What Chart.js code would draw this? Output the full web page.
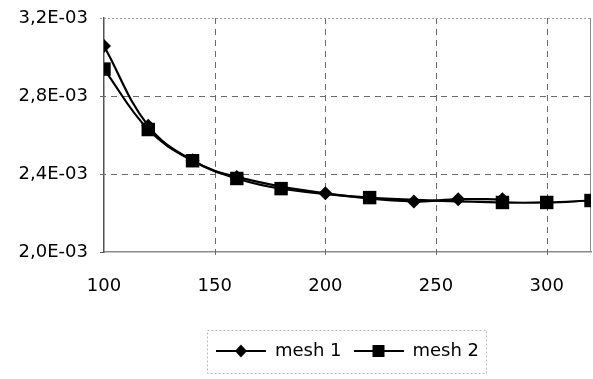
<!DOCTYPE html>
<html>
<head>
<meta charset="utf-8">
<script src="https://cdn.jsdelivr.net/npm/chart.js@4.4.1/dist/chart.umd.min.js"></script>
<style>
  html, body { margin: 0; padding: 0; background: #fff; }
  #wrap { width: 593px; height: 379px; position: relative; }
</style>
</head>
<body>
<div id="wrap"><canvas id="c" width="593" height="379"></canvas></div>
<script>
// ---- data ----
const seriesNames = ['mesh 1', 'mesh 2'];
const mesh1X = [100, 120, 140, 160, 200, 240, 260, 280];
const mesh1Y = [3.056e-3, 2.647e-3, 2.470e-3, 2.385e-3, 2.301e-3, 2.259e-3, 2.271e-3, 2.270e-3];
const mesh2X = [100, 120, 140, 160, 180, 220, 280, 300, 320];
const mesh2Y = [2.938e-3, 2.628e-3, 2.468e-3, 2.377e-3, 2.325e-3, 2.279e-3, 2.254e-3, 2.254e-3, 2.264e-3];
const xTicks = [100, 150, 200, 250, 300];
const yTicks = [2.0e-3, 2.4e-3, 2.8e-3, 3.2e-3];
const xMin = 100, xMax = 320;
const yMin = 2.0e-3, yMax = 3.2e-3;

function toPoints(xs, ys) { return xs.map((x, i) => ({ x: x, y: ys[i] })); }

function fmtSci(v) {
  return (v * 1000).toFixed(1).replace('.', ',') + 'E-03';
}

function legendIcon(shape) {
  const cv = document.createElement('canvas');
  cv.width = 50; cv.height = 16;
  const g = cv.getContext('2d');
  g.strokeStyle = '#000'; g.lineWidth = 2.2;
  g.beginPath(); g.moveTo(0, 8); g.lineTo(50, 8); g.stroke();
  g.fillStyle = '#000';
  g.beginPath();
  if (shape === 'diamond') {
    g.moveTo(25, 1.5); g.lineTo(31, 8); g.lineTo(25, 14.5); g.lineTo(19, 8); g.closePath();
  } else {
    g.rect(19, 2, 12, 12);
  }
  g.fill();
  return cv;
}
const icons = [legendIcon('diamond'), legendIcon('square')];

const FONT = "'DejaVu Sans', sans-serif";

// dashed grid inside the plot, positioned by the chart's own scales
const dashedGrid = {
  id: 'dashedGrid',
  beforeDatasetsDraw(chart) {
    const ctx = chart.ctx, a = chart.chartArea;
    const xs = chart.scales.x, ys = chart.scales.y;
    ctx.save();
    ctx.lineWidth = 1;
    ctx.setLineDash([6, 5]);
    ctx.strokeStyle = '#6a6a6a';
    xTicks.forEach(v => {
      if (v === xMin) return;
      const px = Math.round(xs.getPixelForValue(v)) + 0.5;
      ctx.beginPath(); ctx.moveTo(px, a.top); ctx.lineTo(px, a.bottom + 4); ctx.stroke();
    });
    yTicks.forEach(v => {
      const py = Math.round(ys.getPixelForValue(v)) + 0.5;
      if (Math.abs(v - yMin) < 1e-9) {
        ctx.setLineDash([]); ctx.strokeStyle = '#555';
        ctx.beginPath(); ctx.moveTo(a.left - 4, py); ctx.lineTo(a.left, py); ctx.stroke();
        return;
      }
      if (Math.abs(v - yMax) < 1e-9) { ctx.strokeStyle = '#a0a0a0'; ctx.setLineDash([2, 2]); }
      else { ctx.strokeStyle = '#6a6a6a'; ctx.setLineDash([6, 5]); }
      ctx.beginPath(); ctx.moveTo(a.left - 4, py); ctx.lineTo(a.right, py); ctx.stroke();
    });
    ctx.setLineDash([]);
    ctx.strokeStyle = '#8a8a8a';
    ctx.beginPath(); ctx.moveTo(Math.round(a.right) - 0.5, a.top); ctx.lineTo(Math.round(a.right) - 0.5, a.bottom); ctx.stroke();
    ctx.restore();
  },
  afterDraw(chart) {
    const ctx = chart.ctx;
    const hb = chart.legend.legendHitBoxes;
    if (hb && hb.length) {
      ctx.save();
      const l = Math.min(...hb.map(h => h.left)) - 9;
      const r = Math.max(...hb.map(h => h.left + h.width)) + 7;
      const cy = hb[0].top + hb[0].height / 2;
      ctx.strokeStyle = '#b8b8b8';
      ctx.setLineDash([2, 2]);
      ctx.lineWidth = 1;
      ctx.strokeRect(Math.round(l) + 0.5, Math.round(cy - 21) + 0.5, Math.round(r - l), 43);
      ctx.restore();
    }
  }
};

new Chart(document.getElementById('c'), {
  type: 'line',
  data: {
    datasets: [
      {
        label: seriesNames[0],
        data: toPoints(mesh1X, mesh1Y),
        borderColor: '#000', backgroundColor: '#000', borderWidth: 2.2,
        pointStyle: 'rectRot', pointRadius: 7, pointBackgroundColor: '#000', pointBorderWidth: 0,
        tension: 0.4, fill: false
      },
      {
        label: seriesNames[1],
        data: toPoints(mesh2X, mesh2Y),
        borderColor: '#000', backgroundColor: '#000', borderWidth: 2.2,
        pointStyle: 'rect', pointRadius: 9.5, pointBackgroundColor: '#000', pointBorderWidth: 0,
        tension: 0.4, fill: false
      }
    ]
  },
  options: {
    responsive: false,
    animation: false,
    layout: { autoPadding: false, padding: { top: 18, right: 2, bottom: 9, left: 0 } },
    plugins: {
      tooltip: { enabled: false },
      legend: {
        position: 'bottom',
        fullSize: false,
        labels: {
          usePointStyle: true,
          pointStyleWidth: 50,
          padding: 12,
          color: '#000',
          font: { family: FONT, size: 18 },
          generateLabels(chart) {
            return chart.data.datasets.map((ds, i) => ({
              text: ds.label, datasetIndex: i, pointStyle: icons[i],
              fillStyle: '#000', strokeStyle: '#000', lineWidth: 0, hidden: false
            }));
          }
        }
      }
    },
    scales: {
      x: {
        type: 'linear', min: xMin, max: xMax,
        afterBuildTicks(s) { s.ticks = xTicks.map(v => ({ value: v })); },
        afterFit(s) { s.height = 78; s.paddingRight = 0; s.paddingLeft = 0; },
        ticks: { color: '#000', font: { family: FONT, size: 18 }, padding: 2, maxRotation: 0,
                 callback: v => String(v) },
        grid: { display: false, drawOnChartArea: false, drawTicks: true, tickLength: 22 },
        border: { display: true, color: '#8a8a8a', width: 1.5 }
      },
      y: {
        type: 'linear', min: yMin, max: yMax,
        afterBuildTicks(s) { s.ticks = yTicks.map(v => ({ value: v })); },
        afterFit(s) { s.width = 104; },
        ticks: { color: '#000', font: { family: FONT, size: 18 }, padding: 2,
                 callback: v => fmtSci(v) },
        grid: { display: false, drawOnChartArea: false, drawTicks: true, tickLength: 14 },
        border: { display: true, color: '#555', width: 1.5 }
      }
    }
  },
  plugins: [dashedGrid]
});
</script>
</body>
</html>
